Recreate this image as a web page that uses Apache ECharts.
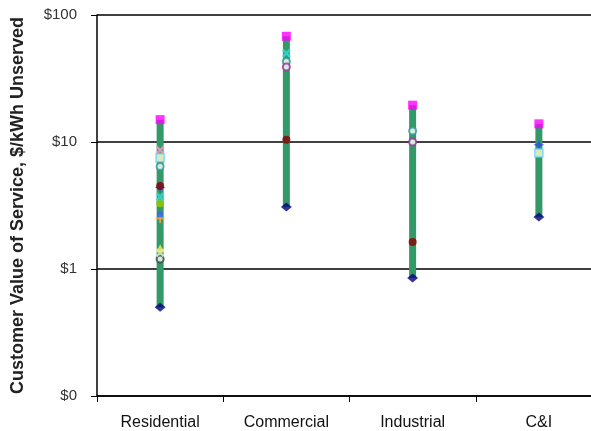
<!DOCTYPE html>
<html>
<head>
<meta charset="utf-8">
<script src="https://cdn.jsdelivr.net/npm/echarts@6/dist/echarts.min.js"></script>
<style>
  html, body { margin: 0; padding: 0; background: #fff; overflow: hidden; }
  #chart { width: 602px; height: 431px; }
</style>
</head>
<body>
<div id="chart"></div>
<script>
// categories and range of each
const categories = ['Residential', 'Commercial', 'Industrial', 'C&I'];
const lowValues = [0.5, 3.08, 0.85, 2.57];
const highValues = [15, 68, 19.5, 13.9];

// individual study estimates (null = no value for that sector)
const maxStudy = [15, 68, 19.5, 13.9];
const minStudy = [0.5, 3.08, 0.85, 2.57];
const darkRed = [4.5, 10.4, 1.63, null];
const tealRing = [6.4, 43, 12.2, null];
const purpleRing = [null, 39, 10, null];
const cyanCross = [3.7, 50, null, null];
const pinkCross = [8.6, null, null, null];
const paleSquare = [7.5, null, null, 8.2];
const blueStar = [4.4, null, null, 9.5];
const limeDot = [3.3, null, null, null];
const blueDot = [2.7, null, null, null];
const orangePlus = [2.5, null, null, null];
const yellowTri = [1.46, null, null, null];
const paleCross = [1.34, null, null, null];
const darkRing = [1.2, null, null, null];

const xPath = 'path://M2,0L5,3L8,0L10,2L7,5L10,8L8,10L5,7L2,10L0,8L3,5L0,2Z';
const plusPath = 'path://M4,0H6V4H10V6H6V10H4V6H0V4H4Z';
const starPath = 'path://M5,0L6.3,3.7L10,5L6.3,6.3L5,10L3.7,6.3L0,5L3.7,3.7Z';

// the plot runs a little past the right edge of the picture, so the
// chart box is wider than the window and gets clipped there
const chart = echarts.init(document.getElementById('chart'));

function marks(name, data, symbol, size, color, border) {
  return {
    name: name,
    type: 'scatter',
    data: data,
    symbol: symbol,
    symbolSize: size,
    z: 5,
    itemStyle: border
      ? { color: '#fff', borderColor: color, borderWidth: 2 }
      : { color: color }
  };
}

const option = {
  animation: false,
  grid: { left: 97, right: 0, top: 15, bottom: 35 },
  xAxis: {
    type: 'category',
    data: categories,
    axisLine: { lineStyle: { color: '#000', width: 1.5 } },
    axisTick: { show: true, length: 6, lineStyle: { color: '#000' } },
    axisLabel: { color: '#111', fontSize: 16, margin: 19, fontFamily: 'Liberation Sans, Arial' }
  },
  yAxis: {
    type: 'log',
    min: 0.1,
    max: 100,
    logBase: 10,
    name: 'Customer Value of Service, $/kWh Unserved',
    nameLocation: 'middle',
    nameGap: 70,
    nameTextStyle: { color: '#222', fontSize: 18, fontWeight: 'bold', fontFamily: 'Liberation Sans, Arial' },
    axisLine: { show: true, lineStyle: { color: '#000', width: 1.5 } },
    axisTick: { show: true, length: 6, lineStyle: { color: '#000' } },
    minorTick: { show: false },
    axisLabel: {
      color: '#333',
      fontSize: 15,
      margin: 20,
      fontFamily: 'Liberation Sans, Arial',
      formatter: function (v) { return v < 1 ? '$0' : '$' + Math.round(v); }
    },
    splitLine: { show: true, lineStyle: { color: '#000', width: 1.5 } }
  },
  series: [
    {
      name: 'Range',
      type: 'custom',
      data: categories.map(function (c, i) { return [i, lowValues[i], highValues[i]]; }),
      encode: { x: 0, y: [1, 2] },
      z: 2,
      renderItem: function (params, api) {
        const i = api.value(0);
        const lo = api.coord([i, api.value(1)]);
        const hi = api.coord([i, api.value(2)]);
        return {
          type: 'rect',
          shape: { x: lo[0] - 3.5, y: hi[1], width: 7, height: lo[1] - hi[1] },
          style: { fill: '#339966' }
        };
      }
    },
    marks('darkRing', darkRing, 'circle', 7, '#334444', true),
    marks('paleCross', paleCross, xPath, 9, '#ddeecc'),
    marks('yellowTri', yellowTri, 'triangle', 8, '#ffee66'),
    marks('orangePlus', orangePlus, plusPath, 9, '#ffaa55'),
    marks('blueDot', blueDot, 'circle', 6, '#3366ff'),
    marks('limeDot', limeDot, 'circle', 8, '#99cc00'),
    marks('cyanCross', cyanCross, xPath, 9, '#33dddd'),
    marks('blueStar', blueStar, starPath, 11, '#3344ff'),
    marks('darkRed', darkRed, 'circle', 8, '#880000'),
    marks('tealRing', tealRing, 'circle', 7, '#339999', true),
    marks('purpleRing', purpleRing, 'circle', 7, '#993399', true),
    marks('pinkCross', pinkCross, xPath, 9, '#ff99cc'),
    {
      name: 'paleSquare',
      type: 'scatter',
      data: paleSquare,
      symbol: 'rect',
      symbolSize: 8,
      z: 5,
      itemStyle: { color: '#ffffcc', borderColor: '#66ccff', borderWidth: 1.5 }
    },
    marks('minStudy', minStudy, 'diamond', [11, 9], '#000080'),
    marks('maxStudy', maxStudy, 'rect', 9, '#ff00ff')
  ]
};

chart.setOption(option);
</script>
</body>
</html>
